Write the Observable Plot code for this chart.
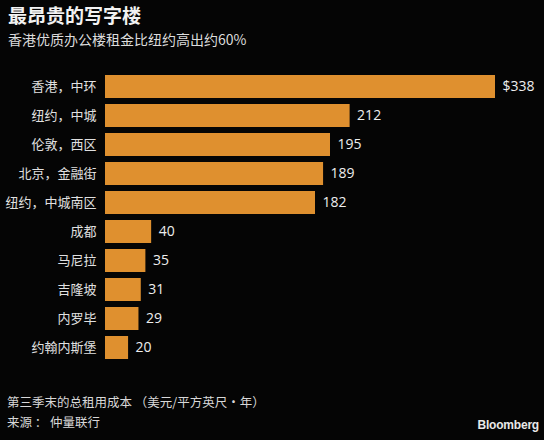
<!DOCTYPE html>
<html><head><meta charset="utf-8">
<script src="https://cdn.jsdelivr.net/npm/d3@7"></script>
<script src="https://cdn.jsdelivr.net/npm/@observablehq/plot@0.6"></script>
<style>
html,body{margin:0;padding:0;background:#050505;}
#wrap{position:relative;width:544px;height:440px;background:#050505;overflow:hidden;font-family:"Noto Sans CJK SC","Noto Sans",sans-serif;color:#e6e6e6;}
#title{position:absolute;left:8px;top:2px;font-size:19px;font-weight:bold;color:#f2f2f2;line-height:26px;}
#subtitle{position:absolute;left:8px;top:30px;font-size:14px;color:#dcdcdc;line-height:19px;}
#chart{position:absolute;left:0;top:69px;}
.note{position:absolute;left:7px;font-size:12.5px;line-height:16px;color:#d8d8d8;white-space:nowrap;}
#brand{position:absolute;right:5px;top:418px;font-family:"Liberation Sans",Arial,sans-serif;font-weight:bold;font-size:12px;color:#e8e8e8;letter-spacing:-0.2px;line-height:15px;}
</style></head>
<body>
<div id="wrap">
<div id="title">最昂贵的写字楼</div>
<div id="subtitle">香港优质办公楼租金比纽约高出约60%</div>
<div id="chart"></div>
<div class="note" style="top:394px">第三季末的总租用成本 （美元/平方英尺·年）</div>
<div class="note" style="top:414px">来源 ： 仲量联行</div>
<div id="brand">Bloomberg</div>
</div>
<script>
const cities = ["香港，中环","纽约，中城","伦敦，西区","北京，金融街","纽约，中城南区","成都","马尼拉","吉隆坡","内罗毕","约翰内斯堡"];
const rents = [338,212,195,189,182,40,35,31,29,20];
const valueLabels = ["$338","212","195","189","182","40","35","31","29","20"];

const data = cities.map((c,i)=>({city:c, rent:rents[i], label:valueLabels[i]}));

const chart = Plot.plot({
  width:544, height:296,
  marginLeft:105, marginRight:49, marginTop:0, marginBottom:0,
  style:{background:"transparent", color:"#e0e0e0", fontFamily:"'Noto Sans CJK SC', sans-serif"},
  x:{domain:[0,338], axis:null},
  y:{domain:cities, padding:0.2, label:null},
  marks:[
    Plot.barX(data,{x:"rent", y:"city", fill:"#DF902F"}),
    Plot.axisY({tickSize:0, tickPadding:9, fontSize:13, fill:"#e0e0e0", label:null}),
    Plot.text(data,{x:"rent", y:"city", text:"label", textAnchor:"start", dx:7, fontSize:14, fill:"#eeeeee", fontFamily:"'Open Sans', 'Noto Sans', sans-serif"})
  ]
});
document.getElementById("chart").appendChild(chart);
</script>
</body></html>
